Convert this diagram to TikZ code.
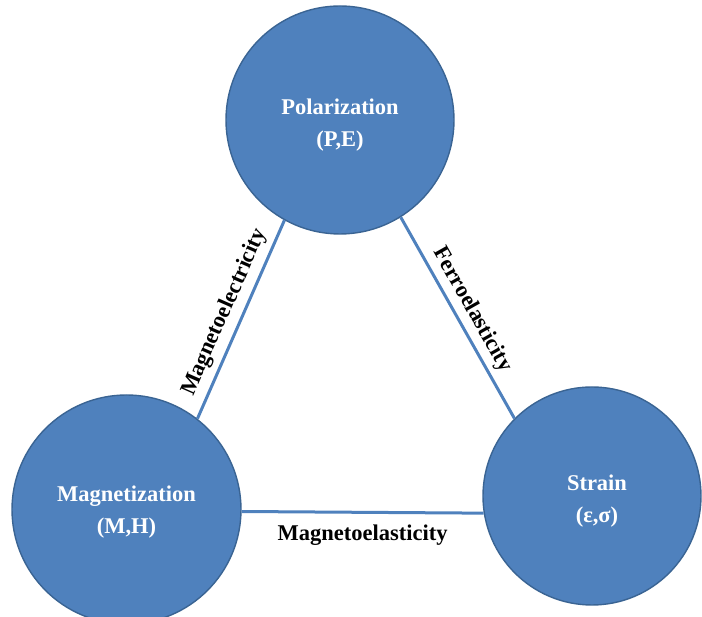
\documentclass[tikz,border=0pt]{standalone}
\usepackage{fontspec}
\setmainfont{Liberation Serif}
\begin{document}
\begin{tikzpicture}[x=1pt,y=1pt,
  quantity/.style={circle, draw=qborder, line width=1.4pt, fill=qfill, inner sep=0pt},
  qtext/.style={text=white, font=\bfseries\fontsize{22.5}{32}\selectfont, align=center},
  coupling/.style={draw=qline, line width=3pt},
  effect/.style={font=\bfseries\fontsize{22.5}{27}\selectfont, text=black}]
\definecolor{qfill}{HTML}{4F81BD}
\definecolor{qborder}{HTML}{3A6493}
\definecolor{qline}{HTML}{4F81BD}
\useasboundingbox (0,0) rectangle (702,617);

% centres of the three quantities
\coordinate (c1) at (340,497);
\coordinate (c2) at (126.5,107.5);
\coordinate (c3) at (592,121);

\node[quantity, minimum size=228pt,
  label={[qtext, yshift=-5pt]center:Polarization\\(P,E)}] (pol) at (c1) {};
\node[quantity, minimum size=229pt,
  label={[qtext, yshift=-3pt]center:Magnetization\\(M,H)}] (mag) at (c2) {};
\node[quantity, minimum size=218pt,
  label={[qtext, xshift=5pt, yshift=-5pt]center:Strain\\(ε,σ)}] (str) at (c3) {};

% couplings between the quantities
\draw[coupling] (mag.52) -- (pol.241)
  node[effect, midway, sloped, above, inner sep=6pt] (me) {Magnetoelectricity};
\draw[coupling] (pol.302) -- (str.135)
  node[effect, midway, sloped, above, inner sep=5pt] (fe) {Ferroelasticity};
\draw[coupling] (mag.-1.8) -- (str.189)
  node[effect, midway, below, inner sep=11pt] (mel) {Magnetoelasticity};
\end{tikzpicture}
\end{document}
